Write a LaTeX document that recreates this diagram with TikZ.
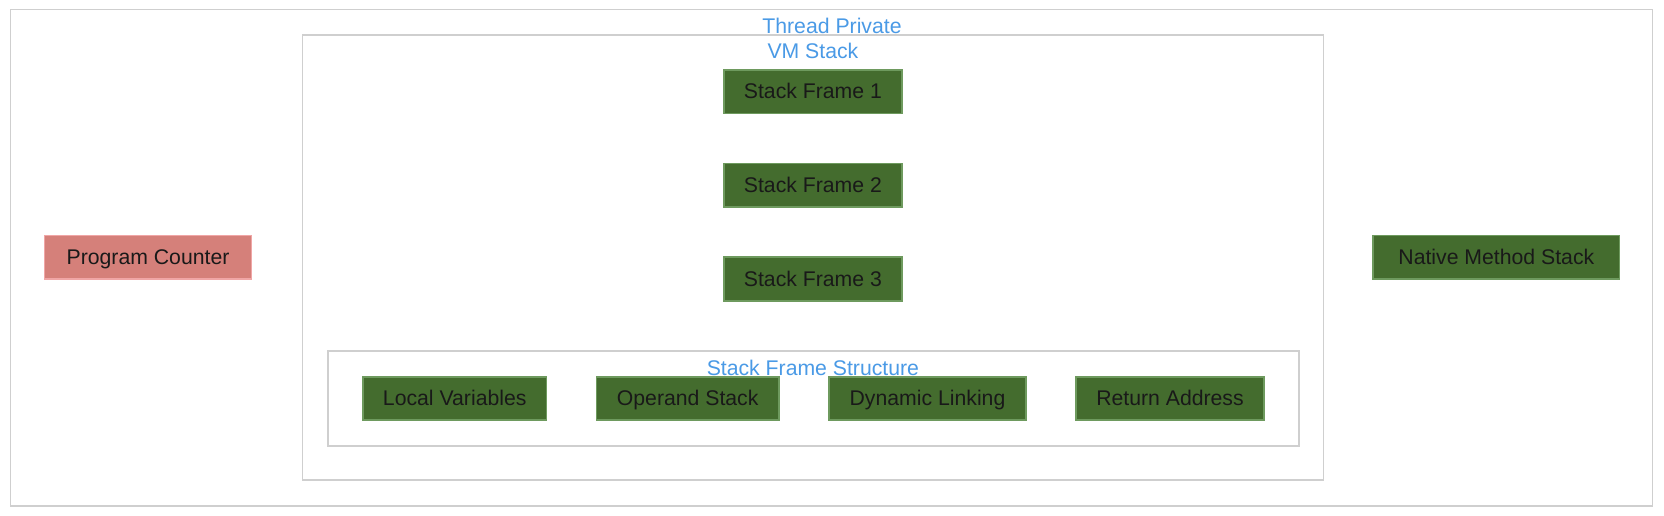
\documentclass[tikz,border=0pt]{standalone}
\usepackage{fontspec}
\setmainfont{Liberation Sans}
\definecolor{framegreen}{HTML}{446C2E}
\definecolor{frameedge}{HTML}{6E9A5E}
\definecolor{pcred}{HTML}{D5807A}
\definecolor{pcedge}{HTML}{F0A6A6}
\definecolor{titleblue}{HTML}{4A9AE6}
\definecolor{boxgray}{HTML}{CFCFCF}
\begin{document}
\begin{tikzpicture}[x=1pt,y=-1pt,
    area/.style={draw=boxgray, line width=1.6pt, fill=none, inner sep=0pt},
    areatitle/.style={text=titleblue, font=\fontsize{20}{23}\selectfont, inner sep=0pt},
    framebox/.style={draw=frameedge, fill=framegreen, line width=1.6pt, minimum height=41pt,
        text=black!90, font=\fontsize{20}{23}\selectfont, inner sep=0pt,
        text height=16pt, text depth=3pt},
    pcbox/.style={framebox, draw=pcedge, fill=pcred}]
    \useasboundingbox (0,0) rectangle (1568,486);
    \fill[white] (0,0) rectangle (1568,486);
    % containers
    \node[area, minimum width=1547pt, minimum height=468pt] (thread) at (783.5,243) {};
    \node[area, minimum width=962pt, minimum height=419pt] (vm) at (766,242.5) {};
    \node[area, minimum width=915pt, minimum height=89pt] (structure) at (766.5,375.5) {};
    \node[areatitle] (threadtitle) at (784,24) {Thread Private};
    \node[areatitle] (vmtitle) at (766,48) {VM Stack};
    % stack frames
    \node[framebox, minimum width=168pt] (sf1) at (766,86.5) {Stack Frame 1};
    \node[framebox, minimum width=168pt] (sf2) at (766,174.5) {Stack Frame 2};
    \node[framebox, minimum width=168pt] (sf3) at (766,263) {Stack Frame 3};
    % frame structure
    \node[framebox, minimum width=173pt] (locals) at (428.5,375.5) {Local Variables};
    \node[framebox, minimum width=172pt] (operand) at (648,375.5) {Operand Stack};
    \node[framebox, minimum width=186pt] (linking) at (874,375.5) {Dynamic Linking};
    \node[framebox, minimum width=177pt] (retaddr) at (1102.5,375.5) {Return Address};
    \node[areatitle] (structtitle) at (766,347) {Stack Frame Structure};
    % side areas
    \node[pcbox, minimum width=195pt] (pc) at (139.5,242.5) {Program Counter};
    \node[framebox, minimum width=232pt] (native) at (1410,242.5) {Native Method Stack};
\end{tikzpicture}
\end{document}
